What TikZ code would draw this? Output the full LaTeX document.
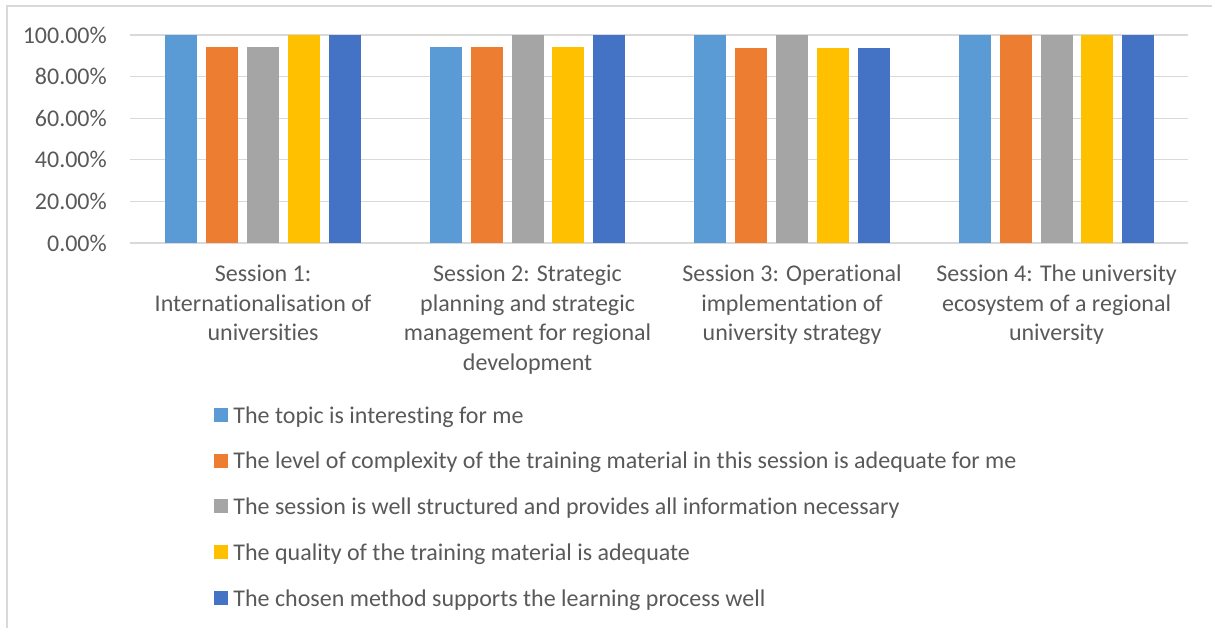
\documentclass[tikz,border=0pt]{standalone}
\usepackage{fontspec}
\setmainfont[Ligatures=NoCommon]{Carlito}
\usetikzlibrary{positioning}

\definecolor{topic}{HTML}{5B9BD5}
\definecolor{level}{HTML}{ED7D31}
\definecolor{struct}{HTML}{A5A5A5}
\definecolor{quality}{HTML}{FFC000}
\definecolor{method}{HTML}{4472C4}
\definecolor{txtgray}{HTML}{595959}
\definecolor{gridgray}{HTML}{D9D9D9}

\begin{document}
\begin{tikzpicture}[x=1pt, y=1pt, font=\fontsize{24}{29.5}\selectfont, text=txtgray, inner sep=0pt,
    bar/.style={minimum width=32pt, anchor=south, draw=none},
    nextbar/.style={right=8.5pt of #1.south east, anchor=south west},
    gridline/.style={draw=gridgray, line width=1.3pt},
    ticklabel/.style={anchor=east},
    catlabel/.style={align=center},
    keybox/.style={minimum size=14pt},
    keytext/.style={text height=16.6pt, text depth=0pt}]

\useasboundingbox (-130,-385) rectangle (1082,243);
\draw[gridgray, line width=1.2pt] (-123,-385) -- (-123,237) -- (1082,237);

% value axis
\draw[gridline] (0,0) -- (1058,0);
\draw[gridline] (0,41.6) -- (1058,41.6);
\draw[gridline] (0,83.2) -- (1058,83.2);
\draw[gridline] (0,124.8) -- (1058,124.8);
\draw[gridline] (0,166.4) -- (1058,166.4);
\draw[gridline] (0,208) -- (1058,208);
\node[ticklabel] (t0) at (-23,0) {0.00\%};
\node[ticklabel] (t20) at (-23,41.6) {20.00\%};
\node[ticklabel] (t40) at (-23,83.2) {40.00\%};
\node[ticklabel] (t60) at (-23,124.8) {60.00\%};
\node[ticklabel] (t80) at (-23,166.4) {80.00\%};
\node[ticklabel] (t100) at (-23,208) {100.00\%};

% session 1
\node[bar, fill=topic, minimum height=208pt] (s1a) at (51.25,0) {};
\node[bar, fill=level, minimum height=195.8pt, nextbar=s1a] (s1b) {};
\node[bar, fill=struct, minimum height=195.8pt, nextbar=s1b] (s1c) {};
\node[bar, fill=quality, minimum height=208pt, nextbar=s1c] (s1d) {};
\node[bar, fill=method, minimum height=208pt, nextbar=s1d] (s1e) {};

% session 2
\node[bar, fill=topic, minimum height=195.8pt] (s2a) at (315.75,0) {};
\node[bar, fill=level, minimum height=195.8pt, nextbar=s2a] (s2b) {};
\node[bar, fill=struct, minimum height=208pt, nextbar=s2b] (s2c) {};
\node[bar, fill=quality, minimum height=195.8pt, nextbar=s2c] (s2d) {};
\node[bar, fill=method, minimum height=208pt, nextbar=s2d] (s2e) {};

% session 3
\node[bar, fill=topic, minimum height=208pt] (s3a) at (580.25,0) {};
\node[bar, fill=level, minimum height=195pt, nextbar=s3a] (s3b) {};
\node[bar, fill=struct, minimum height=208pt, nextbar=s3b] (s3c) {};
\node[bar, fill=quality, minimum height=195pt, nextbar=s3c] (s3d) {};
\node[bar, fill=method, minimum height=195pt, nextbar=s3d] (s3e) {};

% session 4
\node[bar, fill=topic, minimum height=208pt] (s4a) at (844.75,0) {};
\node[bar, fill=level, minimum height=208pt, nextbar=s4a] (s4b) {};
\node[bar, fill=struct, minimum height=208pt, nextbar=s4b] (s4c) {};
\node[bar, fill=quality, minimum height=208pt, nextbar=s4c] (s4d) {};
\node[bar, fill=method, minimum height=208pt, nextbar=s4d] (s4e) {};

\node[catlabel, below=22pt of s1c.south] (cat1) {Session 1:\\Internationalisation of\\universities};
\node[catlabel, below=22pt of s2c.south] (cat2) {Session 2: Strategic\\planning and strategic\\management for regional\\development};
\node[catlabel, below=22pt of s3c.south] (cat3) {Session 3: Operational\\implementation of\\university strategy};
\node[catlabel, below=22pt of s4c.south] (cat4) {Session 4: The university\\ecosystem of a regional\\university};

% legend
\node[keybox, fill=topic] (k1) at (91,-172) {};
\node[keybox, fill=level, below=31.3pt of k1] (k2) {};
\node[keybox, fill=struct, below=31.3pt of k2] (k3) {};
\node[keybox, fill=quality, below=31.3pt of k3] (k4) {};
\node[keybox, fill=method, below=31.3pt of k4] (k5) {};
\node[keytext, right=5pt of k1] (l1) {The topic is interesting for me};
\node[keytext, right=5pt of k2] (l2) {The level of complexity of the training material in this session is adequate for me};
\node[keytext, right=5pt of k3] (l3) {The session is well structured and provides all information necessary};
\node[keytext, right=5pt of k4] (l4) {The quality of the training material is adequate};
\node[keytext, right=5pt of k5] (l5) {The chosen method supports the learning process well};

\end{tikzpicture}
\end{document}
